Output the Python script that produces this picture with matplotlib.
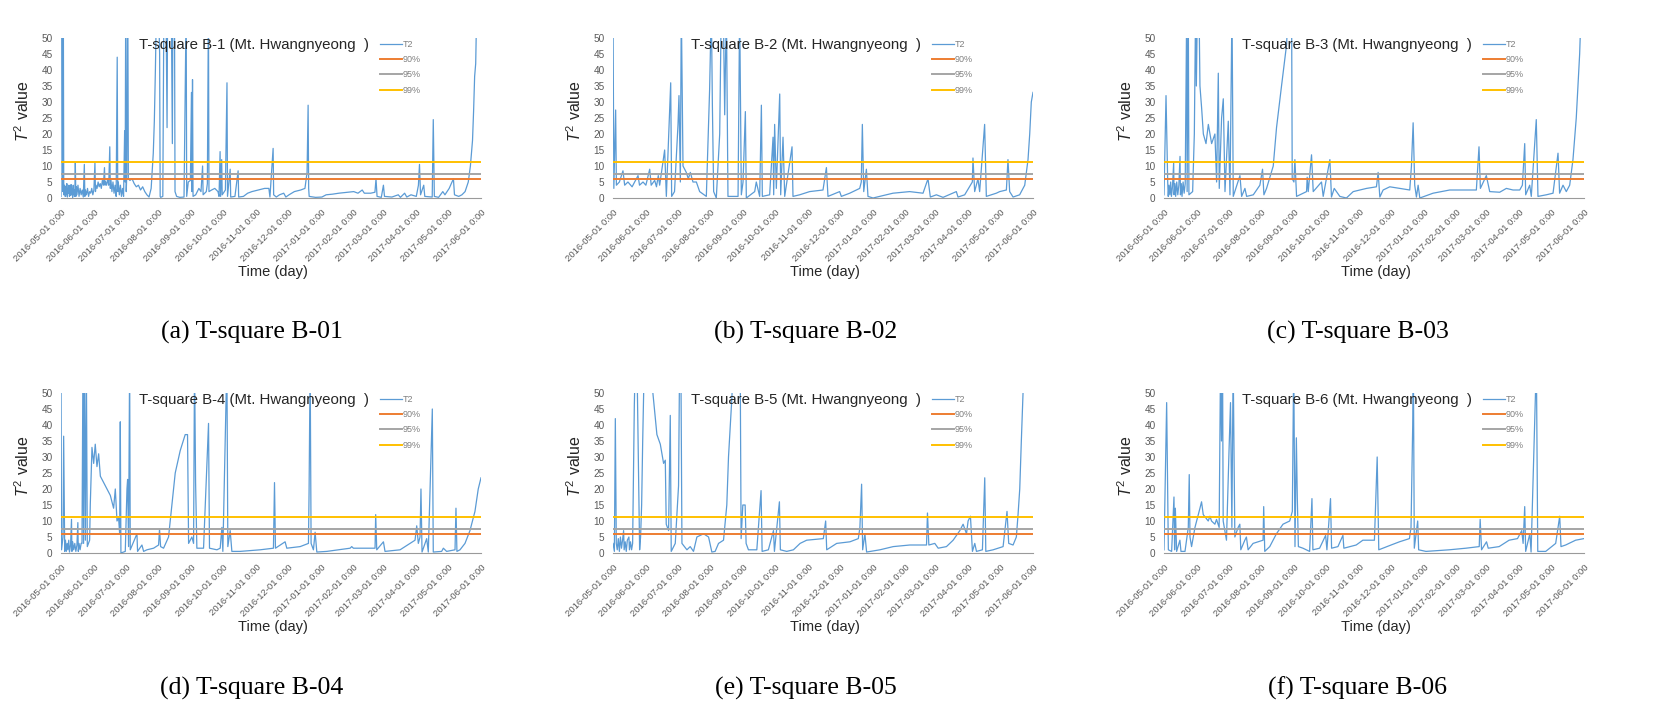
import numpy as np
import pandas as pd
import matplotlib.pyplot as plt

plt.rcParams["font.family"] = ["Liberation Sans", "DejaVu Sans"]
plt.rcParams["mathtext.fontset"] = "custom"
plt.rcParams["mathtext.rm"] = "Liberation Sans"
plt.rcParams["mathtext.it"] = "Liberation Sans:italic"

START = pd.Timestamp("2016-05-01")
END = pd.Timestamp("2017-06-01")

# --- T2 readings, (days since 2016-05-01, value); 60 = off the scale ---
b1_t2 = [
    (0, 0.5), (0.3, 60), (1.5, 60), (1.8, 2), (2.2, 60), (2.6, 1), (3.5, 4), (4, 0.5), (4.5, 3.5), (5, 1),
    (5.5, 4.5), (6, 0.3), (6.5, 3), (7, 1.5), (7.5, 4), (8, 0.5), (8.5, 3.5), (9, 0.8), (9.5, 4.2), (10, 1),
    (10.5, 3), (11, 0.2), (11.5, 4), (12, 1), (12.5, 2.5), (13, 0.5), (13.5, 11), (14, 0.5), (14.5, 3.5),
    (15, 1), (16, 4), (17, 0.5), (18, 3), (19, 1), (20, 2.5), (21, 0.3), (22, 10.5), (22.5, 0.5), (23, 2.5),
    (24, 1), (25, 3), (26, 0.5), (27, 2), (28, 1.5), (29, 3), (30, 1), (31, 2.5), (32, 11), (32.5, 2), (33, 4),
    (34, 3), (35, 5), (36, 3.5), (37, 4.5), (38, 3), (39, 5.5), (40, 4), (41, 9.5), (41.5, 4), (42, 5), (43, 4),
    (44, 6), (45, 4), (46, 16), (46.5, 3), (47, 6), (48, 2), (49, 5), (50, 1.5), (51, 4), (52, 0.5), (53, 44),
    (53.5, 2), (54, 5), (55, 1), (56, 4), (57, 0.5), (58, 3), (59, 0.5), (60, 21), (60.5, 5), (61, 60),
    (61.5, 2), (62, 7), (63, 60), (63.5, 6), (65, 5.5), (67, 6), (69, 4.5), (71, 3.5), (73, 4), (75, 2.5),
    (77, 3.5), (79, 2), (81, 1), (83, 0.3), (85, 3), (87, 14), (88, 24), (89, 40), (90, 60), (92, 60), (93, 45),
    (93.5, 0.5), (94, 0.2), (96, 0.5), (97, 60), (99, 60), (100, 22), (100.5, 60), (104, 60), (105, 17),
    (105.5, 60), (107, 60), (107.5, 2), (109, 0.5), (112, 0.2), (116, 0.3), (118, 60), (118.5, 0.5), (120, 5),
    (122, 5.5), (123, 33), (123.5, 2), (124, 37), (124.5, 0.5), (127, 1), (130, 3), (132, 2), (133.5, 10),
    (134, 1), (137, 2), (138, 4.5), (139, 60), (139.5, 2), (142, 2.5), (145, 3), (148, 2), (149, 0.5),
    (150, 14.5), (150.5, 0.5), (151.5, 12), (152, 1), (155, 2.5), (156.5, 36), (157, 0.5), (159.5, 9),
    (160, 0.3), (164, 0.5), (167, 8.5), (167.5, 0.3), (172, 0.5), (176, 1.5), (180, 2), (186, 2.5), (192, 3),
    (196, 3), (197, 0.3), (200, 15.5), (200.5, 1), (203, 0.3), (206, 1), (210, 1.5), (212, 0.3), (215, 1),
    (220, 2), (226, 2.5), (230, 3), (232, 8), (233, 29), (233.5, 3), (234, 0.5), (240, 0.2), (246, 0.3),
    (250, 1), (256, 1.2), (262, 1.5), (270, 1.8), (276, 2), (280, 1.5), (284, 2.5), (286, 1.5), (292, 1.5),
    (296, 1.8), (297, 6), (298, 0.5), (302, 0.2), (304, 4), (305, 0.5), (312, 0.3), (318, 1), (320, 0.2),
    (324, 1.5), (326, 0.3), (330, 1), (335, 0.5), (337, 4), (338, 10.5), (339, 1), (342, 4), (343, 0.5),
    (350, 0.3), (351, 24.5), (352, 0.5), (356, 0.2), (360, 2), (362, 1), (366, 3), (370, 6), (371, 1),
    (375, 0.5), (378, 1), (381, 2), (384, 5), (386, 10), (388, 18), (389, 27), (390, 38), (391, 42),
    (392, 60), (396, 60),
]

b2_t2 = [
    (0, 60), (0.8, 3), (2.5, 27.5), (3.2, 4), (6, 5), (9.4, 8.5), (11, 4), (14.1, 5), (18, 3.5), (23.6, 7),
    (25, 4), (28.3, 5), (31, 4), (34.6, 9), (36, 4), (39.3, 5.5), (41, 3.5), (42.7, 7), (44, 4), (48.7, 15),
    (50.3, 0.5), (54.4, 36), (55.3, 0.5), (58, 2), (61.3, 23), (62.2, 32), (63.5, 5), (64.4, 60), (66, 10),
    (69.1, 8), (71, 6), (72.9, 8), (75.4, 5), (78.6, 5), (81.7, 2), (88, 0.5), (91.1, 34), (92.7, 60),
    (93.7, 29), (94.9, 2), (97.4, 0), (100.6, 20), (102.1, 60), (104, 60), (105.3, 26), (106.9, 60),
    (108.4, 0.5), (117.9, 0.5), (119.4, 60), (121, 1), (122.6, 5), (124.8, 27), (125.7, 0), (133.6, 2),
    (135.1, 5), (138.3, 0.5), (139.9, 29), (140.8, 0.5), (147.7, 1), (150.9, 19), (151.5, 1), (152.4, 23),
    (154, 3), (157.2, 32.5), (158.1, 1), (160.3, 19), (161.9, 0.5), (168.8, 16), (169.7, 0.5), (176, 1),
    (185.4, 2), (198, 2.5), (201.2, 9.5), (202.7, 0.5), (213.7, 2), (215.3, 0.5), (223.2, 1.5), (232.6, 3),
    (234.1, 5), (235.1, 23), (236.4, 2), (238.9, 9), (240.4, 0.5), (245.2, 0), (251.4, 0.5), (264, 1.5),
    (279.7, 2), (292.3, 1.5), (297, 6), (299.2, 0.3), (304.9, 1), (311.2, 0.2), (323.7, 2), (325.3, 0.3),
    (331.6, 1), (338.8, 5), (339.4, 12.5), (341, 2), (344.1, 6), (345.7, 2), (350.4, 23), (352, 0.5),
    (361.4, 1.5), (364.6, 2), (370.9, 2.5), (372.4, 12), (374, 2), (377.2, 0.3), (383.4, 1), (388.2, 4),
    (391.3, 12), (392.9, 20), (394.4, 30), (396, 33),
]

b3_t2 = [
    (0, 1), (1.9, 32), (3.5, 5), (4, 0.5), (4.7, 4), (5.5, 1), (6.3, 5), (7, 0.5), (8, 3.5), (9.1, 11),
    (9.5, 1), (10.3, 4.5), (11, 0.5), (12, 5), (13, 1), (14, 4), (15.1, 13), (15.5, 1), (16.3, 4.5), (17, 0.5),
    (18, 5), (19, 1.5), (20, 4.5), (21.4, 60), (21.8, 2), (22.9, 60), (23.5, 1), (27, 2), (28.6, 20),
    (29.8, 60), (30.5, 35), (31.5, 60), (33, 60), (33.9, 35), (35.5, 28), (37.1, 20), (39.6, 17), (41.8, 23),
    (44.9, 17), (48, 20), (49.6, 5), (51.2, 39), (52.1, 3), (54.3, 25), (55.9, 31), (57.5, 2), (60.6, 24),
    (62.2, 1), (64.1, 60), (65.3, 0.5), (71.6, 7), (73.2, 0.5), (76.3, 3), (77.9, 0.5), (84.2, 1), (90.4, 4),
    (92.9, 9), (94.2, 1), (96.7, 3), (103, 10), (106.1, 22), (110.8, 35), (115.6, 48), (117.1, 60),
    (120.3, 60), (120.9, 6), (122.5, 5), (123.4, 12), (125, 0.5), (134.4, 2), (135, 6.5), (136, 2),
    (139.1, 13.5), (140.7, 2), (148.5, 5), (150.1, 0.5), (156.4, 12), (157.9, 0.3), (160.5, 3), (165.8, 0.5),
    (172, 0), (178.4, 2), (191, 3), (200.3, 3.5), (201.9, 8), (203.5, 0.3), (206.6, 2.5), (212.9, 3.5),
    (222.3, 3), (231.7, 2.5), (233.3, 10), (234.9, 23.5), (236.4, 4), (238, 0.3), (239.6, 4), (241.2, 0),
    (253.7, 1.5), (269.4, 2.5), (285.1, 2.5), (294.5, 2.5), (297, 16), (298.3, 3), (303.9, 7), (307.1, 2),
    (316.5, 1.8), (322.8, 3), (329.1, 2.5), (335.4, 2.5), (337.9, 4), (340.1, 17), (341, 1), (344.8, 4),
    (346.3, 0.5), (351, 24.5), (352.6, 0.5), (360.5, 1), (366.8, 1.5), (371.5, 14), (373, 1.5), (376.2, 4),
    (379.3, 2), (382.5, 4), (385.6, 12), (388.7, 25), (391.9, 45), (393.4, 60), (396, 60),
]

b4_t2 = [
    (0, 60), (0.5, 1), (1.9, 5), (2.5, 36.5), (3.5, 0.5), (4.2, 4), (5, 0.5), (5.8, 3), (6.5, 1), (7.3, 4),
    (8, 0.3), (9, 2.5), (9.9, 10.5), (10.3, 0.5), (11, 3.5), (12, 1), (13, 3), (14, 0.5), (15, 2.5),
    (15.9, 9.5), (16.3, 0.5), (17, 3), (18, 1), (19, 3), (19.8, 3), (20.7, 60), (21.3, 3), (22, 60), (23, 4),
    (23.9, 60), (24.8, 2), (27, 4), (27.6, 15), (29.2, 33), (30.8, 28), (32.3, 34), (33.9, 27), (35.5, 31),
    (37.1, 24), (40.2, 22), (43.3, 20), (46.5, 18), (49.6, 14), (51.2, 20), (52.8, 10), (54.3, 11), (55.3, 6),
    (55.9, 41), (56.5, 0), (60.6, 0.5), (62.2, 20), (62.8, 23), (63.7, 2), (64.7, 60), (65.3, 1), (71.6, 6),
    (72.2, 0.5), (76.3, 2.5), (77.9, 0.5), (81, 1), (87.3, 1.5), (92, 2.5), (92.9, 7.5), (93.9, 2),
    (96.7, 1.5), (101.4, 5), (104.6, 15), (107.7, 25), (112.4, 32), (117.1, 37), (119.3, 37), (120.3, 3),
    (123.4, 5), (125, 3), (125.9, 60), (126.9, 22), (128.1, 1.5), (134.4, 1.5), (139.1, 40.5), (140, 1.5),
    (147, 1), (150.1, 1.5), (151.7, 8), (152.6, 0.5), (156.4, 60), (157.3, 2), (159.5, 7), (161.1, 0.5),
    (168.9, 0.5), (187.8, 1), (200.3, 1.5), (201.3, 22), (202.2, 1.5), (211.3, 3.5), (212.9, 1.5),
    (225.5, 2), (233.3, 3), (233.9, 19), (234.9, 60), (235.8, 3), (238, 1), (239.6, 6.5), (241.2, 0.3),
    (250.6, 0.5), (272.6, 1.5), (274.1, 2), (275.7, 1.5), (296.1, 1.5), (296.7, 12), (297.7, 1), (304, 3.5),
    (305.5, 0.5), (319.7, 1), (333.8, 4), (335.4, 8.5), (336.9, 3), (338.5, 5), (339.4, 20), (340.4, 0.3),
    (344.8, 4.5), (346.3, 0.3), (350.1, 45), (351, 0.3), (358.9, 0.5), (360.5, 1.5), (363.6, 0.5),
    (371.5, 1), (372.4, 14), (373.3, 0.5), (376.2, 1), (380.9, 3), (385.6, 7), (390.3, 13), (393.4, 20),
    (396, 23.5),
]

b5_t2 = [
    (0, 3), (1.3, 0.5), (2.2, 42), (3.1, 3), (4, 1), (5, 4.5), (6, 0.5), (7, 5), (8, 1.5), (9, 4), (10, 7),
    (10.5, 1), (11.5, 3.5), (12.5, 0.5), (13.5, 4), (15, 5), (15.5, 1), (16.5, 3.5), (17.5, 1), (18.5, 3),
    (20.1, 46), (21, 60), (22.6, 60), (25.1, 1), (26, 5), (27, 15), (28, 35), (29.5, 60), (33, 60),
    (37.6, 50), (41.4, 37), (44.6, 34), (47.7, 28), (49.3, 29), (50.2, 9), (52.4, 7), (54, 43), (54.9, 0.5),
    (58.7, 3), (61.8, 21), (62.8, 60), (64, 60), (65, 3), (69.7, 1), (72.8, 2), (75.9, 0.5), (79.1, 5),
    (85.4, 6), (90.1, 5), (93.2, 0.3), (96.3, 0.5), (99.5, 3), (104.2, 4), (107.3, 15), (108.9, 30),
    (112, 48), (113.6, 60), (119.9, 60), (120.8, 4.5), (122.4, 15), (124.6, 15), (125.5, 3), (127.7, 1),
    (135.6, 1), (139.6, 19.5), (140.6, 0.5), (146.5, 1), (151.3, 7), (152.2, 0.5), (156.9, 16), (157.8, 1),
    (163.8, 0.5), (170.1, 1), (176.4, 3), (182.6, 4), (198.3, 4.5), (200.5, 10), (201.5, 1), (210.9, 3),
    (223.4, 3.5), (231.3, 4.5), (232.8, 8), (234.4, 21.5), (235.4, 1), (237.5, 6), (239.1, 0.3), (251.7, 1),
    (264.2, 2), (279.9, 2.5), (295.6, 2.5), (296.5, 12.5), (297.8, 2.5), (303.4, 3), (306.6, 1.5), (314.4, 2),
    (320.7, 4), (327, 7), (330.1, 9), (333.3, 6), (334.8, 10), (337, 11.5), (338.9, 0.5), (341.1, 3),
    (342.7, 0.5), (348.3, 1), (350.5, 23.5), (351.5, 0.5), (358.4, 1), (367.8, 2), (371.5, 13), (373.1, 3),
    (377.2, 2.5), (380.3, 5), (381.9, 12), (383.5, 20), (385, 35), (386.6, 50), (396, 60),
]

b6_t2 = [
    (0, 1), (2.5, 47), (4.1, 1), (7.2, 0.5), (9.4, 17.5), (10, 1), (10.7, 14), (11.9, 0.5), (15, 4), (16, 0.5),
    (19.8, 0.5), (22.9, 8), (23.8, 24.5), (24.5, 5), (26, 2), (29.2, 8), (33.9, 14), (35.4, 16), (37, 12),
    (41.7, 10), (43.3, 11.5), (44.8, 10), (48, 9), (49.5, 10.5), (52, 8), (53.3, 60), (54.2, 35), (55.2, 60),
    (55.8, 10), (58.9, 4), (61.4, 33), (62.7, 47), (64, 8), (65.2, 60), (66.8, 5), (69.9, 8), (71.5, 9),
    (72.4, 1), (76.2, 4), (77.7, 5), (79.3, 1), (84, 3), (93.4, 4), (94, 14.5), (95, 0.5), (99.7, 2), (106, 6),
    (112.2, 9), (118.5, 10), (121, 13), (122.3, 60), (123.5, 2), (124.8, 36), (125.7, 17), (126.7, 2),
    (131, 1.5), (137.3, 0.5), (139.5, 17), (140.4, 1), (146.7, 1.5), (152.4, 5.5), (153.6, 1), (157, 17),
    (158, 1.5), (164, 2), (168.7, 5.5), (169.6, 1.5), (181.2, 2.5), (187.5, 4), (198.4, 4), (201, 30),
    (202.5, 1), (214.1, 2.5), (222, 3.5), (231.4, 4.5), (232.9, 8), (234.5, 40), (235.1, 60), (236, 1.5),
    (239.2, 10), (240.1, 1), (247, 0.5), (269, 1), (284.7, 1.5), (297.2, 2), (298.1, 10.5), (299.4, 1),
    (304.1, 3.5), (305.7, 1.5), (316, 2), (325.4, 4), (333.3, 4.5), (337.3, 7), (338.6, 3), (340.1, 14.5),
    (341, 0.5), (344.9, 6), (346.1, 0.3), (351.1, 60), (352.4, 0.5), (359.9, 0.5), (369.3, 3), (373.1, 11.5),
    (374.3, 2), (378.7, 2.5), (388.1, 4), (396, 4.5),
]

# control limits
limit_90 = 6.0
limit_95 = 7.6
limit_99 = 11.1

titles = [f"T-square B-{i} (Mt. Hwangnyeong  )" for i in range(1, 7)]
captions = ["(a) T-square B-01", "(b) T-square B-02", "(c) T-square B-03",
            "(d) T-square B-04", "(e) T-square B-05", "(f) T-square B-06"]

BLUE, ORANGE, GREY, YELLOW = "#5B9BD5", "#ED7D31", "#A5A5A5", "#FFC000"
TXT = "#595959"

W, H = 1659, 722
fig = plt.figure(figsize=(W / 100, H / 100), dpi=100)

col_left = [61, 613, 1164]
row_top = [38, 393]
cap_x = [252, 806, 1358]
cap_y = [332, 688]
ax_w, ax_h = 420, 160

months = pd.date_range(START, END, freq="MS")
month_labels = [m.strftime("%Y-%m-%d") + " 0:00" for m in months]

for i, pts in enumerate([b1_t2, b2_t2, b3_t2, b4_t2, b5_t2, b6_t2]):
    row, col = divmod(i, 3)
    ax = fig.add_axes([col_left[col] / W, 1 - (row_top[row] + ax_h) / H, ax_w / W, ax_h / H])

    days, vals = zip(*pts)
    t = START + pd.to_timedelta(np.array(days), unit="D")
    ax.plot(t, vals, color=BLUE, lw=0.9, label="T2")
    for lvl, c, lab in [(limit_90, ORANGE, "90%"), (limit_95, GREY, "95%"), (limit_99, YELLOW, "99%")]:
        ax.plot([START, END], [lvl, lvl], color=c, lw=1.4, label=lab)

    ax.set_xlim(START, END)
    ax.set_ylim(0, 50)
    ax.set_yticks(range(0, 51, 5))
    ax.set_xticks(months)
    ax.set_xticklabels(month_labels, rotation=45, ha="right", rotation_mode="anchor",
                       fontsize=6.8, color=TXT)
    ax.tick_params(axis="y", length=0, pad=6, labelsize=7.2, labelcolor=TXT)
    ax.tick_params(axis="x", length=0, pad=7)
    for s in ["top", "right", "left"]:
        ax.spines[s].set_visible(False)
    ax.spines["bottom"].set_color("#9a9a9a")

    ax.text(0.46, 0.955, titles[i], transform=ax.transAxes, ha="center", va="center",
            fontsize=10.8, color="#262626")
    ax.set_ylabel(r"$T^2$ value", fontsize=11.5, color="#262626")
    ax.yaxis.set_label_coords(-29 / ax_w, 0.54)
    ax.set_xlabel("Time (day)", fontsize=10.5, color="#262626")
    ax.xaxis.set_label_coords(0.505, -0.42)

    leg = ax.legend(loc="upper left", bbox_to_anchor=(0.755, 1.0), frameon=False, fontsize=6.5,
                    handlelength=2.4, handletextpad=0.15, labelspacing=0.7,
                    borderaxespad=0, borderpad=0.2)
    for txt in leg.get_texts():
        txt.set_color("#7f7f7f")

    fig.text(cap_x[col] / W, 1 - cap_y[row] / H, captions[i], ha="center", va="center",
             fontsize=18.5, family="Liberation Serif")

fig.savefig("out.png", dpi=100)
